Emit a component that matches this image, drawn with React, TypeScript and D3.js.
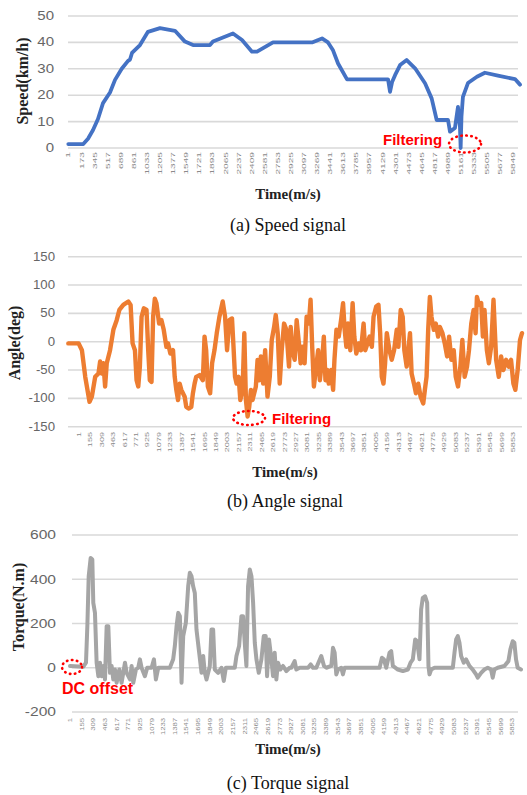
import React from "react";
import * as d3 from "d3";

// ---------- (a) Speed signal ----------
const speedTime = [1,198,260,326,391,457,549,615,703,786,812,838,943,1048,1206,1403,1534,1640,1863,1902,2165,2284,2415,2481,2691,3204,3335,3414,3480,3546,3664,4203,4229,4256,4295,4361,4448,4558,4689,4776,4842,4991,5017,5082,5122,5148,5157,5168,5187,5253,5371,5476,5647,5871,5937];
const speedKmh = [1.5,1.5,3.5,6.8,11,17,21,25.8,30,33,33.5,36,39,44,45.4,44.4,40.3,39,39,40.3,43.4,40.9,36.5,36.5,40,40,41.5,40,37,32,26,26,21.3,25,27.6,31.4,33.3,30.2,24.5,18.8,10.6,10.6,6.2,7.6,15.6,8,0,12,19.4,24.6,27,28.5,27.4,26.1,24];
const speedYTicks = [0,10,20,30,40,50];
const speedXLabels = [1,173,345,517,689,861,1033,1205,1377,1549,1721,1893,2065,2237,2409,2581,2753,2925,3097,3269,3441,3613,3785,3957,4129,4301,4473,4645,4817,4989,5161,5333,5505,5677,5849];

// ---------- (b) Angle signal ----------
const angleTime = [0,140,185,230,288,320,365,410,432,455,477,500,522,567,612,657,693,747,815,846,873,905,927,950,972,995,1026,1062,1085,1107,1130,1152,1175,1197,1233,1265,1296,1332,1355,1386,1422,1445,1467,1490,1512,1535,1580,1602,1638,1670,1692,1715,1737,1782,1827,1850,1872,1895,1926,1953,1985,2016,2052,2097,2129,2156,2187,2223,2241,2264,2286,2313,2336,2367,2390,2412,2435,2457,2480,2502,2547,2570,2592,2615,2646,2673,2705,2736,2763,2795,2817,2844,2871,2898,2930,2961,2997,3020,3042,3074,3101,3132,3155,3177,3209,3236,3267,3290,3312,3335,3366,3393,3416,3447,3470,3492,3515,3537,3569,3596,3614,3641,3672,3704,3731,3753,3776,3798,3830,3861,3884,3911,3942,3974,4010,4032,4064,4091,4122,4145,4181,4212,4235,4257,4280,4302,4325,4361,4392,4424,4460,4482,4514,4541,4563,4595,4617,4640,4662,4694,4721,4752,4784,4820,4842,4865,4887,4910,4932,4964,4991,5022,5045,5081,5112,5144,5171,5202,5234,5261,5292,5324,5351,5382,5414,5441,5472,5504,5531,5549,5576,5607,5630,5652,5684,5711,5742,5774,5810,5846,5877,5909,5945,5981,6012,6044,6071,6102,6134,6161];
const angleDeg = [-3,-3,-15,-62,-106,-97,-62,-56,-35,-56,-38,-79,-38,-15,21,38,56,65,71,65,-3,-15,-68,-79,-44,44,59,56,-15,-68,-71,44,76,68,32,38,21,-9,-3,-21,-15,-62,-85,-103,-74,-85,-97,-115,-118,-115,-91,-74,-62,-59,-68,9,-15,-79,-91,-38,-15,15,44,71,44,-15,38,41,-3,-62,-74,-62,-103,-85,15,-103,-132,-115,-85,-103,-79,-32,-68,-26,-74,-15,-97,-62,3,26,47,15,-74,-15,32,21,-44,26,-15,-32,38,-3,-38,-9,-38,44,32,74,-9,-79,-44,-15,-68,-32,9,-68,-50,-74,-50,-85,-32,21,9,38,68,21,-9,32,-15,68,9,-21,-3,-15,32,-15,-3,9,-9,44,62,65,15,-62,-74,-38,15,-15,-32,-15,21,-9,56,44,-15,-44,-15,15,-56,-74,-91,-74,-97,-109,-85,-62,21,79,44,21,32,9,26,15,-3,-26,9,-32,-15,-62,-79,-44,3,-62,-44,-15,32,56,15,79,65,68,9,56,-15,-38,-9,74,-32,-62,-26,-50,-32,-44,-32,-74,-85,-50,3,15];
const angleYTicks = [-150,-100,-50,0,50,100,150];
const angleXLabels = [1,155,309,463,617,771,925,1079,1233,1387,1541,1695,1849,2003,2157,2311,2465,2619,2773,2927,3081,3235,3389,3543,3697,3851,4005,4159,4313,4467,4621,4775,4929,5083,5237,5391,5545,5699,5853];

// ---------- (c) Torque signal ----------
const torqueTime = [0,177,212,230,248,274,296,309,331,353,376,398,420,442,464,486,508,530,552,574,596,618,654,684,729,751,795,817,839,874,905,927,949,993,1024,1082,1113,1139,1170,1324,1368,1390,1413,1435,1457,1479,1501,1536,1567,1589,1611,1633,1655,1677,1713,1744,1766,1788,1810,1854,1876,1898,1920,1964,2008,2039,2066,2185,2207,2242,2273,2295,2317,2339,2361,2384,2406,2428,2450,2472,2503,2538,2569,2595,2613,2639,2670,2692,2714,2736,2758,2789,2825,2869,2913,2935,2979,3001,3046,3156,3191,3222,3266,3332,3368,3399,3465,3487,3509,3531,3553,3597,3619,3641,4039,4105,4136,4162,4193,4237,4259,4281,4347,4414,4480,4515,4546,4577,4603,4634,4656,4678,4709,4736,4753,4767,4789,4833,5076,5098,5120,5142,5164,5186,5221,5252,5296,5340,5384,5406,5451,5495,5539,5583,5605,5627,5671,5760,5813,5839,5870,5892,5914,5936,5980];
const torqueNm = [8,5,23,188,414,496,489,293,248,23,-38,23,-38,8,-53,188,188,-23,8,-53,-8,-68,-8,-68,23,-23,-53,8,-68,-8,0,38,0,-38,0,0,38,-53,0,0,38,98,188,248,233,-68,143,203,368,429,414,368,338,173,68,-23,53,-23,-53,8,173,173,-8,-23,0,-60,0,0,53,98,233,233,113,8,368,444,414,293,113,38,-23,38,143,143,-38,128,38,-38,68,-53,23,-8,8,-15,0,0,30,-8,0,0,15,0,0,53,8,0,8,90,68,-30,-8,0,-30,0,0,0,45,38,0,68,75,8,-8,-15,-8,23,38,128,120,38,263,316,323,293,8,-30,-8,0,0,68,128,143,113,53,23,38,8,-8,-30,-45,-23,-8,0,-8,-45,-8,0,8,30,83,120,113,38,0,-8];
const torqueYTicks = [-200,0,200,400,600];
const torqueXLabels = [1,155,309,463,617,771,925,1079,1233,1387,1541,1695,1849,2003,2157,2311,2465,2619,2773,2927,3081,3235,3389,3543,3697,3851,4005,4159,4313,4467,4621,4775,4929,5083,5237,5391,5545,5699,5853];

type Note = { text: string; tx: number; ty: number; size: number; cx: number; cy: number; rx: number; ry: number };

type PanelCfg = {
  time: number[];
  values: number[];
  yDomain: [number, number];
  yTicks: number[];
  xLabels: number[];
  color: string;
  strokeW: number;
  lineLeft: number;
  lineRight: number;
  gridLeft: number;
  gridRight: number;
  top: number;
  bottom: number;
  yLabelRight: number;
  yLabelSx: number;
  labelRange: [number, number];
  labelTop: number;
  labelSx: number;
  yTitle: string;
  yTitleX: number;
  yTitleY: number;
  xTitleY: number;
  caption: string;
  captionY: number;
  centerX: number;
  note: Note;
};

const SERIF = "'Liberation Serif', 'Times New Roman', serif";
const SANS = "'Liberation Sans', Arial, sans-serif";

function Panel({ cfg }: { cfg: PanelCfg }) {
  const x = d3
    .scaleLinear()
    .domain([cfg.time[0], cfg.time[cfg.time.length - 1]])
    .range([cfg.lineLeft, cfg.lineRight]);
  const y = d3.scaleLinear().domain(cfg.yDomain).range([cfg.bottom, cfg.top]);
  const pts: [number, number][] = cfg.time.map((t, i) => [t, cfg.values[i]]);
  const line = d3
    .line<[number, number]>()
    .x((d) => x(d[0]))
    .y((d) => y(d[1]));
  const lab = d3
    .scalePoint<string>()
    .domain(cfg.xLabels.map(String))
    .range(cfg.labelRange);
  const n = cfg.note;
  return (
    <g>
      {cfg.yTicks.map((v) => (
        <line
          key={"g" + v}
          x1={cfg.gridLeft}
          x2={cfg.gridRight}
          y1={y(v)}
          y2={y(v)}
          stroke="#D9D9D9"
          strokeWidth={1.6}
        />
      ))}
      {cfg.yTicks.map((v) => (
        <text
          key={"y" + v}
          transform={`translate(${cfg.yLabelRight},${y(v)}) scale(${cfg.yLabelSx},1)`}
          textAnchor="end"
          dominantBaseline="central"
          fontFamily={SANS}
          fontSize={12}
          fill="#666"
        >
          {v}
        </text>
      ))}
      {cfg.xLabels.map((v) => (
        <text
          key={"x" + v}
          transform={`translate(${lab(String(v))},${cfg.labelTop}) rotate(-90) scale(${cfg.labelSx},0.85)`}
          textAnchor="end"
          dominantBaseline="central"
          fontFamily={SANS}
          fontSize={7}
          fill="#8a8a8a"
        >
          {v}
        </text>
      ))}
      <path
        d={line(pts) || ""}
        fill="none"
        stroke={cfg.color}
        strokeWidth={cfg.strokeW}
        strokeLinejoin="round"
        strokeLinecap="round"
      />
      <text
        transform={`translate(${cfg.yTitleX},${cfg.yTitleY}) rotate(-90)`}
        textAnchor="middle"
        dominantBaseline="central"
        fontFamily={SERIF}
        fontWeight="bold"
        fontSize={16}
        fill="#222"
      >
        {cfg.yTitle}
      </text>
      <text
        x={cfg.centerX}
        y={cfg.xTitleY}
        textAnchor="middle"
        fontFamily={SERIF}
        fontWeight="bold"
        fontSize={15}
        fill="#222"
      >
        Time(m/s)
      </text>
      <text
        x={cfg.centerX}
        y={cfg.captionY}
        textAnchor="middle"
        fontFamily={SERIF}
        fontSize={18}
        fill="#111"
      >
        {cfg.caption}
      </text>
      <ellipse
        cx={n.cx}
        cy={n.cy}
        rx={n.rx}
        ry={n.ry}
        fill="none"
        stroke="#FF0000"
        strokeWidth={2.6}
        strokeDasharray="0.5 4.5"
        strokeLinecap="round"
      />
      <text
        x={n.tx}
        y={n.ty}
        fontFamily={SANS}
        fontWeight="bold"
        fontSize={n.size}
        fill="#FF0000"
      >
        {n.text}
      </text>
    </g>
  );
}

const panels: PanelCfg[] = [
  {
    time: speedTime,
    values: speedKmh,
    yDomain: [0, 50],
    yTicks: speedYTicks,
    xLabels: speedXLabels,
    color: "#4472C4",
    strokeW: 3.8,
    lineLeft: 68.3,
    lineRight: 520,
    gridLeft: 68,
    gridRight: 518,
    top: 16,
    bottom: 148,
    yLabelRight: 54,
    yLabelSx: 1.25,
    labelRange: [68.3, 513.3],
    labelTop: 152,
    labelSx: 1.45,
    yTitle: "Speed(km/h)",
    yTitleX: 22,
    yTitleY: 81,
    xTitleY: 199,
    caption: "(a) Speed signal",
    captionY: 231,
    centerX: 288,
    note: { text: "Filtering", tx: 383, ty: 145, size: 15, cx: 465, cy: 144, rx: 16, ry: 8.5 },
  },
  {
    time: angleTime,
    values: angleDeg,
    yDomain: [-150, 150],
    yTicks: angleYTicks,
    xLabels: angleXLabels,
    color: "#ED7D31",
    strokeW: 4.4,
    lineLeft: 68.3,
    lineRight: 522,
    gridLeft: 68,
    gridRight: 522,
    top: 256.7,
    bottom: 426.7,
    yLabelRight: 55,
    yLabelSx: 1.1,
    labelRange: [79, 513],
    labelTop: 432,
    labelSx: 1.3,
    yTitle: "Angle(deg)",
    yTitleX: 14,
    yTitleY: 343,
    xTitleY: 477,
    caption: "(b) Angle signal",
    captionY: 507,
    centerX: 285,
    note: { text: "Filtering", tx: 272, ty: 424, size: 15, cx: 249, cy: 418, rx: 16, ry: 7 },
  },
  {
    time: torqueTime,
    values: torqueNm,
    yDomain: [-200, 600],
    yTicks: torqueYTicks,
    xLabels: torqueXLabels,
    color: "#A5A5A5",
    strokeW: 4,
    lineLeft: 70,
    lineRight: 521,
    gridLeft: 72,
    gridRight: 518,
    top: 535,
    bottom: 712,
    yLabelRight: 56,
    yLabelSx: 1.3,
    labelRange: [70, 512],
    labelTop: 718,
    labelSx: 1.1,
    yTitle: "Torque(N.m)",
    yTitleX: 18,
    yTitleY: 607,
    xTitleY: 754,
    caption: "(c) Torque signal",
    captionY: 789,
    centerX: 288,
    note: { text: "DC offset", tx: 62, ty: 694, size: 16, cx: 72, cy: 667, rx: 10, ry: 7 },
  },
];

export default function App() {
  return (
    <svg
      width={527}
      height={795}
      style={{ position: "absolute", left: 0, top: 0, background: "#fff" }}
    >
      <rect width={527} height={795} fill="#fff" />
      {panels.map((p, i) => (
        <Panel key={i} cfg={p} />
      ))}
    </svg>
  );
}
